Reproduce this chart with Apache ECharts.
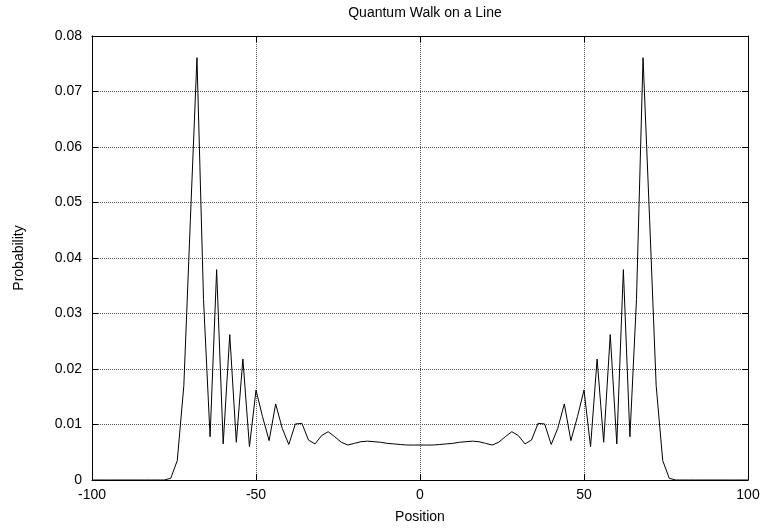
<!DOCTYPE html>
<html>
<head>
<meta charset="utf-8">
<script src="https://cdn.jsdelivr.net/npm/echarts@6/dist/echarts.min.js"></script>
<style>
html,body{margin:0;padding:0;background:#fff;}
#chart{width:763px;height:529px;}
</style>
</head>
<body>
<div id="chart"></div>
<script>
// Positions on the line (even sites only)
var positions = [
  -100,-98,-96,-94,-92,-90,-88,-86,-84,-82,-80,-78,-76,-74,-72,-70,-68,-66,-64,-62,
  -60,-58,-56,-54,-52,-50,-48,-46,-44,-42,-40,-38,-36,-34,-32,-30,-28,-26,-24,-22,
  -20,-18,-16,-14,-12,-10,-8,-6,-4,-2,0,2,4,6,8,10,12,14,16,18,
  20,22,24,26,28,30,32,34,36,38,40,42,44,46,48,50,52,54,56,58,
  60,62,64,66,68,70,72,74,76,78,80,82,84,86,88,90,92,94,96,98,100
];
// Probability at each position
var probability = [
  0,0,0,0,0,0,0,0,0,0,0,0,
  0.0003,0.0035,0.017,0.047,0.0761,0.0325,0.0078,0.0379,
  0.0065,0.0262,0.0068,0.0218,0.0060,0.0162,0.0114,0.0071,0.0137,0.0093,
  0.0064,0.0101,0.0102,0.0072,0.0065,0.0080,0.0087,0.0078,0.0068,0.0063,
  0.0066,0.0069,0.0070,0.0069,0.0068,0.0066,0.0065,0.0064,0.0063,0.0063,
  0.0063,
  0.0063,0.0063,0.0064,0.0065,0.0066,0.0068,0.0069,0.0070,0.0069,0.0066,
  0.0063,0.0068,0.0078,0.0087,0.0080,0.0065,0.0072,0.0102,0.0101,0.0064,
  0.0093,0.0137,0.0071,0.0114,0.0162,0.0060,0.0218,0.0068,0.0262,0.0065,
  0.0379,0.0078,0.0325,0.0761,0.047,0.017,0.0035,0.0003,
  0,0,0,0,0,0,0,0,0,0,0,0
];
var xTicks = [-100,-50,0,50,100];
var yTicks = [0,0.01,0.02,0.03,0.04,0.05,0.06,0.07,0.08];

var data = positions.map(function(p,i){return [p, probability[i]];});
var font = 'Liberation Sans, Arial, Helvetica, sans-serif';
var chart = echarts.init(document.getElementById('chart'), null, {renderer:'canvas'});
var tickStyle = {show:true, inside:true, length:6, lineStyle:{color:'#000', width:1}};
var grid = {type:'dotted', color:'#555', width:1};
chart.setOption({
  animation:false,
  backgroundColor:'#fff',
  title:{text:'Quantum Walk on a Line', left:420, textAlign:'center', top:1,
    textStyle:{fontFamily:font, fontSize:14, fontWeight:'normal', color:'#000'}},
  grid:{left:92, right:15, top:36, bottom:48, containLabel:false},
  xAxis:[{
    type:'value', min:xTicks[0], max:xTicks[xTicks.length-1], interval:50,
    name:'Position', nameLocation:'middle', nameGap:30,
    nameTextStyle:{fontFamily:font, fontSize:14, color:'#000'},
    axisLine:{show:true, onZero:false, lineStyle:{color:'#000', width:1}},
    axisTick:tickStyle,
    axisLabel:{fontFamily:font, fontSize:14, color:'#000', margin:8},
    splitLine:{show:true, lineStyle:grid}
  },{
    type:'value', position:'top', min:xTicks[0], max:xTicks[xTicks.length-1], interval:50,
    axisLine:{show:true, onZero:false, lineStyle:{color:'#000', width:1}},
    axisTick:tickStyle, axisLabel:{show:false}, splitLine:{show:false}
  }],
  yAxis:[{
    type:'value', min:yTicks[0], max:yTicks[yTicks.length-1], interval:0.01,
    name:'Probability', nameLocation:'middle', nameGap:66, nameRotate:90,
    nameTextStyle:{fontFamily:font, fontSize:14, color:'#000'},
    axisLine:{show:true, onZero:false, lineStyle:{color:'#000', width:1}},
    axisTick:tickStyle,
    axisLabel:{fontFamily:font, fontSize:14, color:'#000', margin:10,
      formatter:function(v){return String(Math.round(v*100)/100);}},
    splitLine:{show:true, lineStyle:grid}
  },{
    type:'value', position:'right', min:yTicks[0], max:yTicks[yTicks.length-1], interval:0.01,
    axisLine:{show:true, onZero:false, lineStyle:{color:'#000', width:1}},
    axisTick:tickStyle, axisLabel:{show:false}, splitLine:{show:false}
  }],
  series:[{
    type:'line', data:data, xAxisIndex:0, yAxisIndex:0,
    showSymbol:false, symbol:'none',
    lineStyle:{color:'#000', width:1},
    z:5
  }]
});
</script>
</body>
</html>
